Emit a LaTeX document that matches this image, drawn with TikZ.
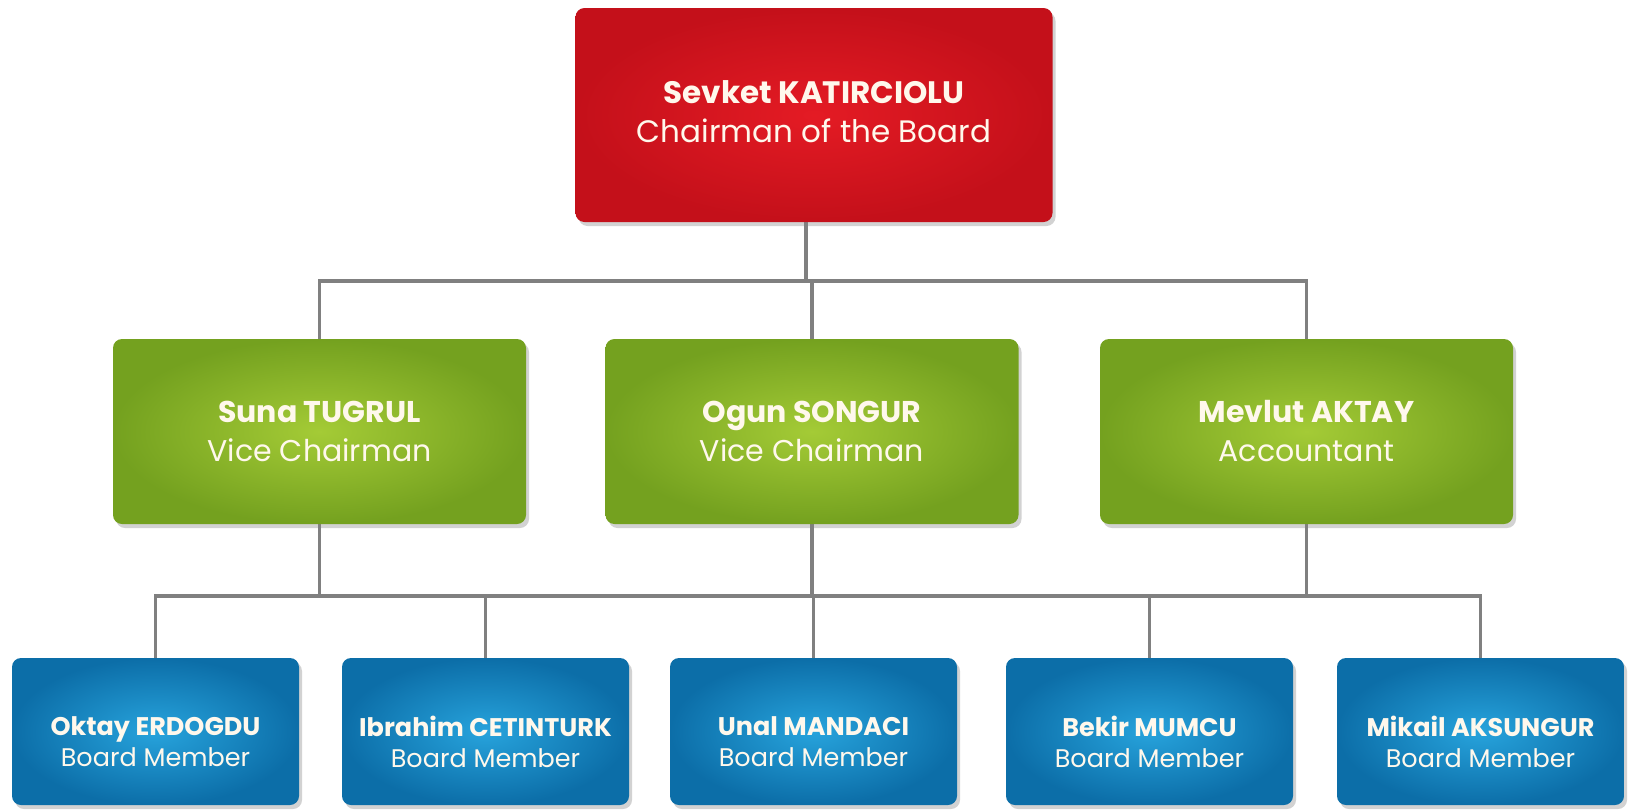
\documentclass[tikz,border=0pt]{standalone}
\usepackage{fontspec}
\setmainfont{Poppins}
\usetikzlibrary{shadows}
\definecolor{redin}{HTML}{E41B24}
\definecolor{redout}{HTML}{C4101A}
\definecolor{grin}{HTML}{A4CB36}
\definecolor{grout}{HTML}{74A11F}
\definecolor{bluin}{HTML}{27A3DC}
\definecolor{bluout}{HTML}{0C6EA8}
\definecolor{linecol}{HTML}{808080}
\definecolor{txtcol}{HTML}{FFF8EC}
\tikzset{
  box/.style={rectangle, rounded corners=9pt, text=txtcol, align=center,
    drop shadow={shadow xshift=3pt, shadow yshift=-4pt, opacity=0.35}},
  topbox/.style={box, minimum width=477pt, minimum height=214pt,
    inner color=redin, outer color=redout, font=\fontsize{31}{39}\selectfont},
  greenbox/.style={box, minimum width=413pt, minimum height=185pt,
    inner color=grin, outer color=grout, font=\fontsize{30}{39}\selectfont},
  bluebox/.style={box, minimum width=287pt, minimum height=147pt,
    inner color=bluin, outer color=bluout},
  bluetext/.style={text=txtcol, align=center, font=\fontsize{25.5}{31}\selectfont},
  conn/.style={draw=linecol, line width=3.2pt}
}
\begin{document}
\begin{tikzpicture}[x=1pt,y=-1pt]
\useasboundingbox[fill=white] (0,0) rectangle (1634,809);
% connectors (drawn first, behind boxes)
\draw[conn] (806,222) -- (806,281);
\draw[conn] (319.5,339) -- (319.5,281) -- (1306.5,281) -- (1306.5,339);
\draw[conn] (812,281) -- (812,339);
\draw[conn] (319.5,524) -- (319.5,596);
\draw[conn] (812,524) -- (812,596);
\draw[conn] (1306.5,524) -- (1306.5,596);
\draw[conn] (155.5,658) -- (155.5,596) -- (1480.5,596) -- (1480.5,658);
\draw[conn] (485.5,596) -- (485.5,658);
\draw[conn] (813.5,596) -- (813.5,658);
\draw[conn] (1149.5,596) -- (1149.5,658);
\node[topbox] (top) at (814,115) {};
\node[text=txtcol, align=center, font=\fontsize{31}{39}\selectfont] (tt) at ([yshift=3pt]top.center) {\bfseries Sevket KATIRCIOLU\\Chairman of the Board};
\node[greenbox] (g1) at (319.5,431.5) {\bfseries Suna TUGRUL\\Vice Chairman};
\node[greenbox] (g2) at (812,431.5) {\bfseries Ogun SONGUR\\Vice Chairman};
\node[greenbox] (g3) at (1306.5,431.5) {\bfseries Mevlut AKTAY\\Accountant};
\node[bluebox] (b1) at (155.5,731.5) {};
\node[bluebox] (b2) at (485.5,731.5) {};
\node[bluebox] (b3) at (813.5,731.5) {};
\node[bluebox] (b4) at (1149.5,731.5) {};
\node[bluebox] (b5) at (1480.5,731.5) {};
\node[bluetext] (t1) at ([yshift=-10pt]b1.center) {\bfseries Oktay ERDOGDU\\Board Member};
\node[bluetext] (t2) at ([yshift=-10pt]b2.center) {\bfseries Ibrahim CETINTURK\\Board Member};
\node[bluetext] (t3) at ([yshift=-10pt]b3.center) {\bfseries Unal MANDACI\\Board Member};
\node[bluetext] (t4) at ([yshift=-10pt]b4.center) {\bfseries Bekir MUMCU\\Board Member};
\node[bluetext] (t5) at ([yshift=-10pt]b5.center) {\bfseries Mikail AKSUNGUR\\Board Member};
\end{tikzpicture}
\end{document}
